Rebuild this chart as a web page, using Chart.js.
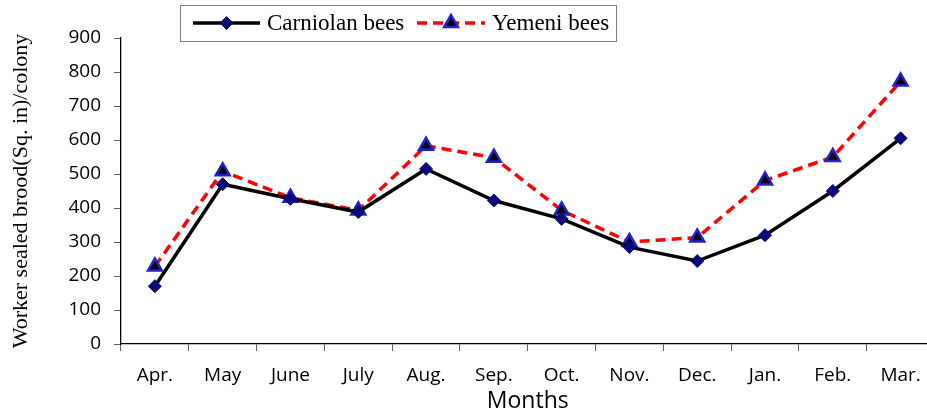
<!DOCTYPE html>
<html><head><meta charset="utf-8">
<script src="https://cdn.jsdelivr.net/npm/chart.js@4"></script>
<style>html,body{margin:0;padding:0;overflow:hidden;background:#fff;width:927px;height:415px}canvas{display:block}</style>
</head><body>
<canvas id="c" width="945" height="415"></canvas>
<script>
const months = ['Apr.','May','June','July','Aug.','Sep.','Oct.','Nov.','Dec.','Jan.','Feb.','Mar.'];
const carniolan = [170,470,427,388,515,422,368,285,244,320,450,605];
const yemeni = [228,508,430,393,583,548,393,300,313,481,550,772];
const seriesNames = ['Carniolan bees','Yemeni bees'];
const yMin = 0, yMax = 900, yStep = 100;

const tickFont = {family:'"Open Sans", sans-serif', size:19};

function drawMarker(ctx, style, x, y, fill, stroke, bw, r){
  ctx.save();
  ctx.setLineDash([]);
  ctx.fillStyle = fill; ctx.strokeStyle = stroke; ctx.lineWidth = bw;
  ctx.beginPath();
  if (style === 'rectRot') {
    ctx.moveTo(x, y - r); ctx.lineTo(x + r, y); ctx.lineTo(x, y + r); ctx.lineTo(x - r, y); ctx.closePath();
  } else {
    ctx.moveTo(x, y - r);
    ctx.lineTo(x + Math.sin(2*Math.PI/3)*r, y - Math.cos(2*Math.PI/3)*r);
    ctx.lineTo(x + Math.sin(4*Math.PI/3)*r, y - Math.cos(4*Math.PI/3)*r);
    ctx.closePath();
  }
  ctx.fill(); if (bw > 0) ctx.stroke();
  ctx.restore();
}

const boxLegend = {
  id: 'boxLegend',
  afterDraw(chart){
    const ctx = chart.ctx;
    ctx.save();
    ctx.strokeStyle = '#7f7f7f'; ctx.lineWidth = 1;
    ctx.strokeRect(180.5, 5.5, 436, 36);
    const items = [{x0:193, x1:260, tx:267}, {x0:417, x1:485, tx:492}];
    const y = 23;
    chart.data.datasets.forEach((ds, i) => {
      const it = items[i];
      ctx.beginPath();
      ctx.setLineDash(ds.borderDash || []);
      ctx.strokeStyle = ds.borderColor; ctx.lineWidth = ds.borderWidth;
      ctx.moveTo(it.x0, y); ctx.lineTo(it.x1, y); ctx.stroke();
      ctx.setLineDash([]);
      drawMarker(ctx, ds.pointStyle, (it.x0 + it.x1)/2, y, ds.pointBackgroundColor, ds.pointBorderColor, ds.pointBorderWidth, ds.pointRadius);
      ctx.fillStyle = '#000';
      ctx.font = '23px "Liberation Serif", serif';
      ctx.textBaseline = 'middle'; ctx.textAlign = 'left';
      ctx.fillText(ds.label, it.tx, y + 1);
    });
    ctx.restore();
  }
};

new Chart(document.getElementById('c'), {
  type: 'line',
  data: {
    labels: months,
    datasets: [
      {
        label: seriesNames[0], data: carniolan,
        borderColor: '#000000', borderWidth: 3.5,
        pointStyle: 'rectRot', pointRadius: 6.5, pointHoverRadius: 6.5,
        pointBackgroundColor: '#0a0a78', pointBorderColor: '#0a0a78', pointBorderWidth: 1,
        tension: 0, fill: false
      },
      {
        label: seriesNames[1], data: yemeni,
        borderColor: '#ff0000', borderWidth: 3.5, borderDash: [10, 6],
        pointStyle: 'triangle', pointRadius: 8, pointHoverRadius: 8,
        pointBackgroundColor: '#000000', pointBorderColor: '#2222cc', pointBorderWidth: 2.5,
        tension: 0, fill: false
      }
    ]
  },
  options: {
    responsive: false,
    animation: false,
    events: [],
    layout: { padding: { top: 38, right: 8, left: 0, bottom: 0 } },
    plugins: { legend: { display: false }, tooltip: { enabled: false } },
    scales: {
      x: {
        offset: true,
        grid: { offset: true, drawOnChartArea: false, tickLength: 7, color: '#606060', lineWidth: 1 },
        border: { color: '#000', width: 1.3 },
        ticks: { font: tickFont, color: '#000', padding: 13, maxRotation: 0, autoSkip: false },
        title: { display: true, text: 'Months', font: {family:'"Open Sans", sans-serif', size: 23}, color: '#000', padding: { top: 0, bottom: 0 } },
        afterFit(scale){ scale.height = 71; }
      },
      y: {
        min: yMin, max: yMax,
        grid: { drawOnChartArea: false, tickLength: 7, color: '#606060', lineWidth: 1 },
        border: { color: '#000', width: 1.3 },
        ticks: { stepSize: yStep, font: tickFont, color: '#000', padding: 13 },
        title: { display: true, text: 'Worker sealed brood(Sq. in)/colony', font: {family:'"Liberation Serif", serif', size: 22}, color: '#000', padding: { top: 8, bottom: 0 } },
        afterFit(scale){ scale.width = 121; }
      }
    }
  },
  plugins: [boxLegend]
});
</script>
</body></html>
